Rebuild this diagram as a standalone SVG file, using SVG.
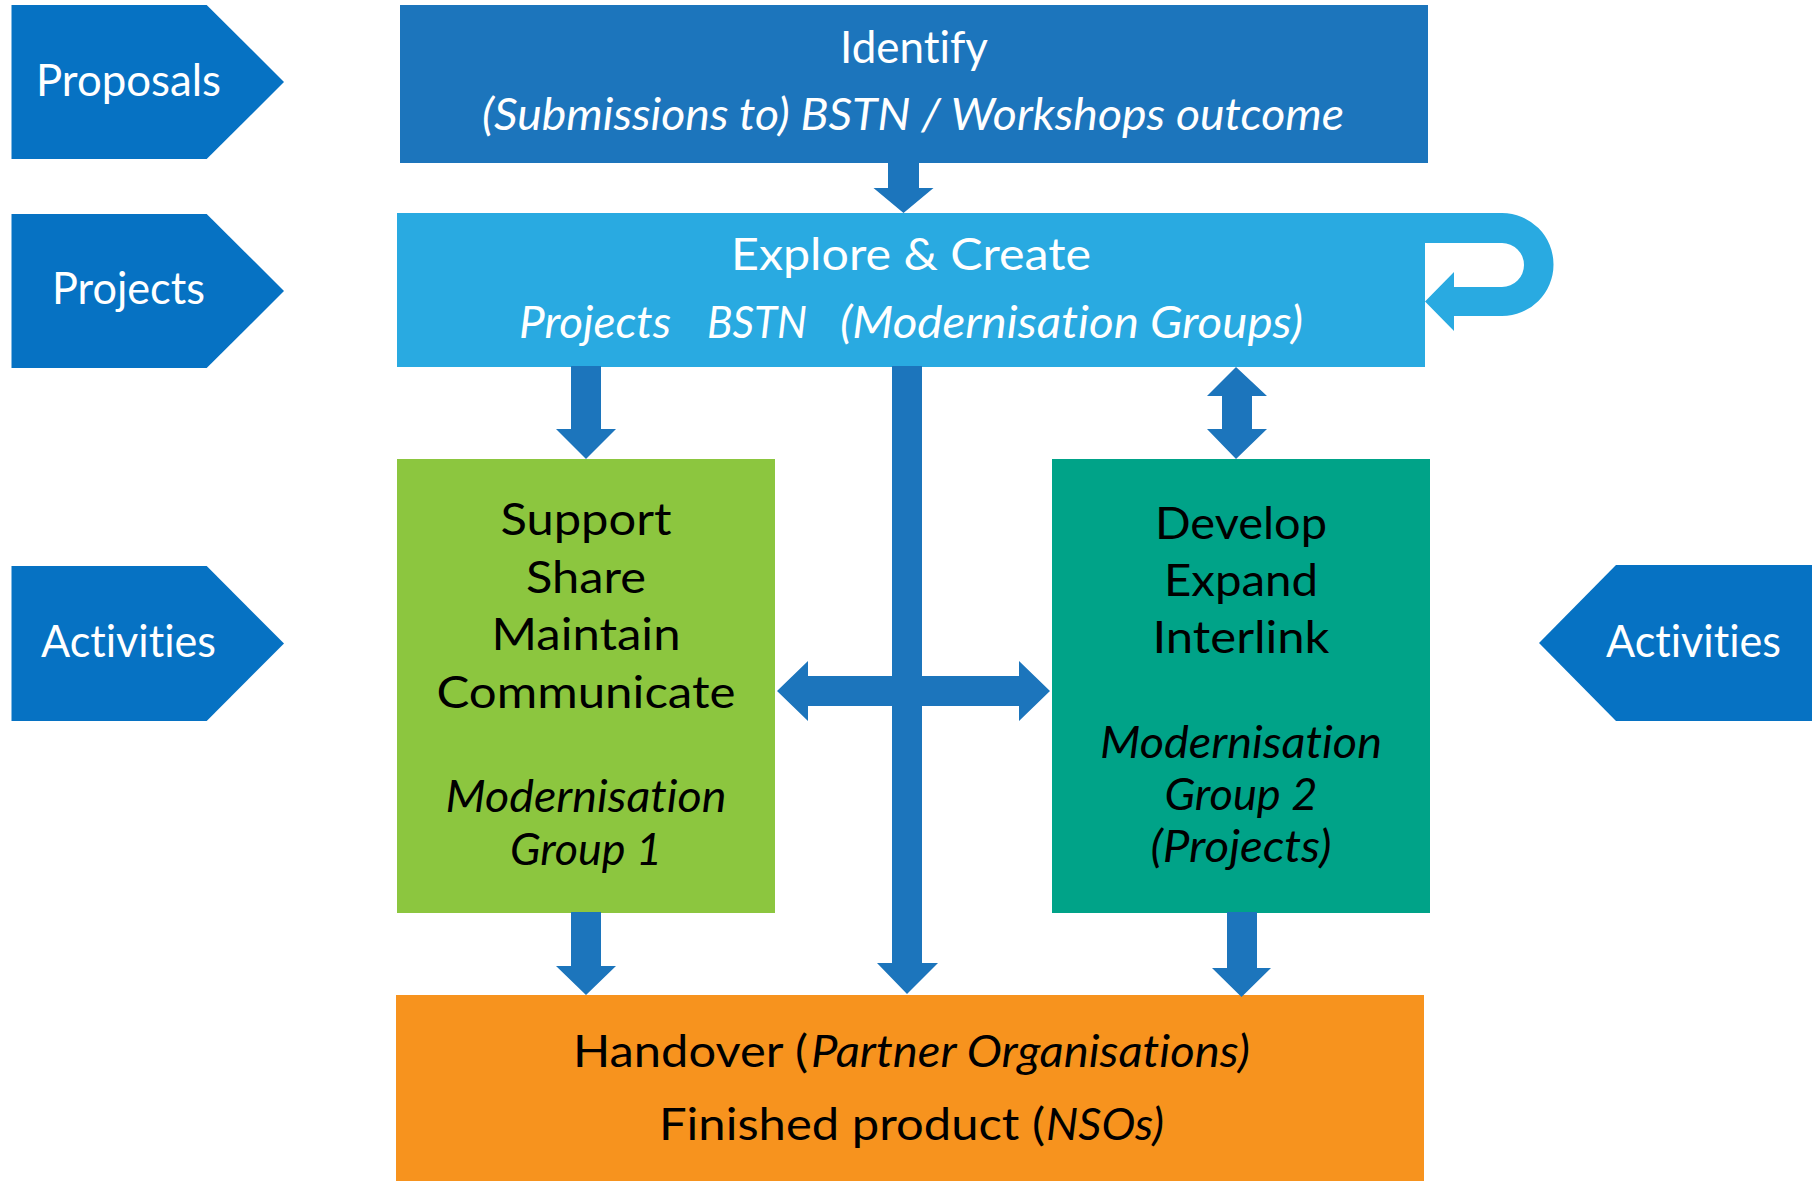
<svg xmlns="http://www.w3.org/2000/svg" width="1820" height="1181" viewBox="0 0 1820 1181">
<style>
.t{font-family:Lato,"Open Sans","Liberation Sans",sans-serif;font-size:44px;text-anchor:middle;font-variant-ligatures:none;font-feature-settings:"liga" 0,"clig" 0}
.w{fill:#ffffff}
.k{fill:#000000}
.i{font-style:italic}
.pent{fill:#0672C3}
.arr{fill:#1C75BC}
</style>
<rect width="1820" height="1181" fill="#ffffff"/>
<g id="proposals">
<path class="pent" d="M11.5,5 H206.7 L284,82 L206.7,159 H11.5 Z"/>
<text class="t w" x="128.5" y="96" textLength="185" lengthAdjust="spacingAndGlyphs">Proposals</text>
</g>
<g id="projects">
<path class="pent" d="M11.5,214 H206.7 L284,291 L206.7,368 H11.5 Z"/>
<text class="t w" x="128.5" y="304" textLength="153" lengthAdjust="spacingAndGlyphs">Projects</text>
</g>
<g id="activities-left">
<path class="pent" d="M11.5,566 H206.7 L284,643.5 L206.7,721 H11.5 Z"/>
<text class="t w" x="128.5" y="657" textLength="175" lengthAdjust="spacingAndGlyphs">Activities</text>
</g>
<g id="activities-right">
<path class="pent" d="M1812,565 H1616 L1539,643 L1616,721 H1812 Z"/>
<text class="t w" x="1693.5" y="657" textLength="175" lengthAdjust="spacingAndGlyphs">Activities</text>
</g>
<g id="identify">
<rect x="400" y="5" width="1028" height="158" fill="#1C75BC"/>
<text class="t w" x="914" y="63" textLength="148" lengthAdjust="spacingAndGlyphs">Identify</text>
<text class="t w i" x="913" y="130" textLength="862" lengthAdjust="spacingAndGlyphs">(Submissions to) BSTN / Workshops outcome</text>
</g>
<g id="explore">
<rect x="397" y="213" width="1028" height="154" fill="#29AAE1"/>
<text class="t w" x="911" y="270" textLength="360" lengthAdjust="spacingAndGlyphs">Explore &amp; Create</text>
<text class="t w i" x="595" y="338" textLength="152" lengthAdjust="spacingAndGlyphs">Projects</text>
<text class="t w i" x="757" y="338" textLength="100" lengthAdjust="spacingAndGlyphs">BSTN</text>
<text class="t w i" x="1071.5" y="338" textLength="463" lengthAdjust="spacingAndGlyphs">(Modernisation Groups)</text>
</g>
<g id="group1">
<rect x="397" y="459" width="378" height="454" fill="#8CC63F"/>
<text class="t k" x="586" y="535" textLength="171" lengthAdjust="spacingAndGlyphs">Support</text>
<text class="t k" x="586" y="593" textLength="120" lengthAdjust="spacingAndGlyphs">Share</text>
<text class="t k" x="586" y="650" textLength="189" lengthAdjust="spacingAndGlyphs">Maintain</text>
<text class="t k" x="586" y="708" textLength="299" lengthAdjust="spacingAndGlyphs">Communicate</text>
<text class="t k i" x="586" y="812" textLength="281" lengthAdjust="spacingAndGlyphs">Modernisation</text>
<text class="t k i" x="586" y="865" textLength="152" lengthAdjust="spacingAndGlyphs">Group 1</text>
</g>
<g id="group2">
<rect x="1052" y="459" width="378" height="454" fill="#00A388"/>
<text class="t k" x="1241" y="539" textLength="172" lengthAdjust="spacingAndGlyphs">Develop</text>
<text class="t k" x="1241" y="596" textLength="154" lengthAdjust="spacingAndGlyphs">Expand</text>
<text class="t k" x="1241" y="653" textLength="177" lengthAdjust="spacingAndGlyphs">Interlink</text>
<text class="t k i" x="1241" y="758" textLength="282" lengthAdjust="spacingAndGlyphs">Modernisation</text>
<text class="t k i" x="1241" y="810" textLength="153" lengthAdjust="spacingAndGlyphs">Group 2</text>
<text class="t k i" x="1241" y="862" textLength="181" lengthAdjust="spacingAndGlyphs">(Projects)</text>
</g>
<g id="handover">
<rect x="396" y="995" width="1028" height="186" fill="#F7931E"/>
<text class="t k" x="573" y="1067" style="text-anchor:start" textLength="235" lengthAdjust="spacingAndGlyphs">Handover (</text>
<text class="t k i" x="811" y="1067" style="text-anchor:start" textLength="439" lengthAdjust="spacingAndGlyphs">Partner Organisations)</text>
<text class="t k" x="659" y="1140" style="text-anchor:start" textLength="386" lengthAdjust="spacingAndGlyphs">Finished product (</text>
<text class="t k i" x="1046" y="1140" style="text-anchor:start" textLength="118" lengthAdjust="spacingAndGlyphs">NSOs)</text>
</g>
<g id="connectors">
<polygon class="arr" points="888,162 919,162 919,188 933.5,188 903.5,213 873.5,188 888,188"/>
<path fill="#29AAE1" d="M1424,213 H1502 A51.5,51.5 0 0 1 1502,316 H1454 V331 L1425,301.5 L1454,272 V287 H1502 A22,22 0 0 0 1502,243 H1424 Z"/>
<polygon class="arr" points="571,366 601,366 601,429 616,429 586,459 556,429 571,429"/>
<polygon class="arr" points="892,366 922,366 922,963 938,963 907,994 877,963 892,963"/>
<polygon class="arr" points="808,676 1019,676 1019,661 1050,691 1019,721 1019,706 808,706 808,721 777,691 808,661"/>
<polygon class="arr" points="1236,367 1267,396 1252,396 1252,429 1267,429 1236,459 1207,429 1222,429 1222,396 1207,396"/>
<polygon class="arr" points="571,912 601,912 601,966 616,966 586,995 556,966 571,966"/>
<polygon class="arr" points="1227,912 1257,912 1257,968 1271,968 1241.5,997 1212,968 1227,968"/>
</g>
</svg>
